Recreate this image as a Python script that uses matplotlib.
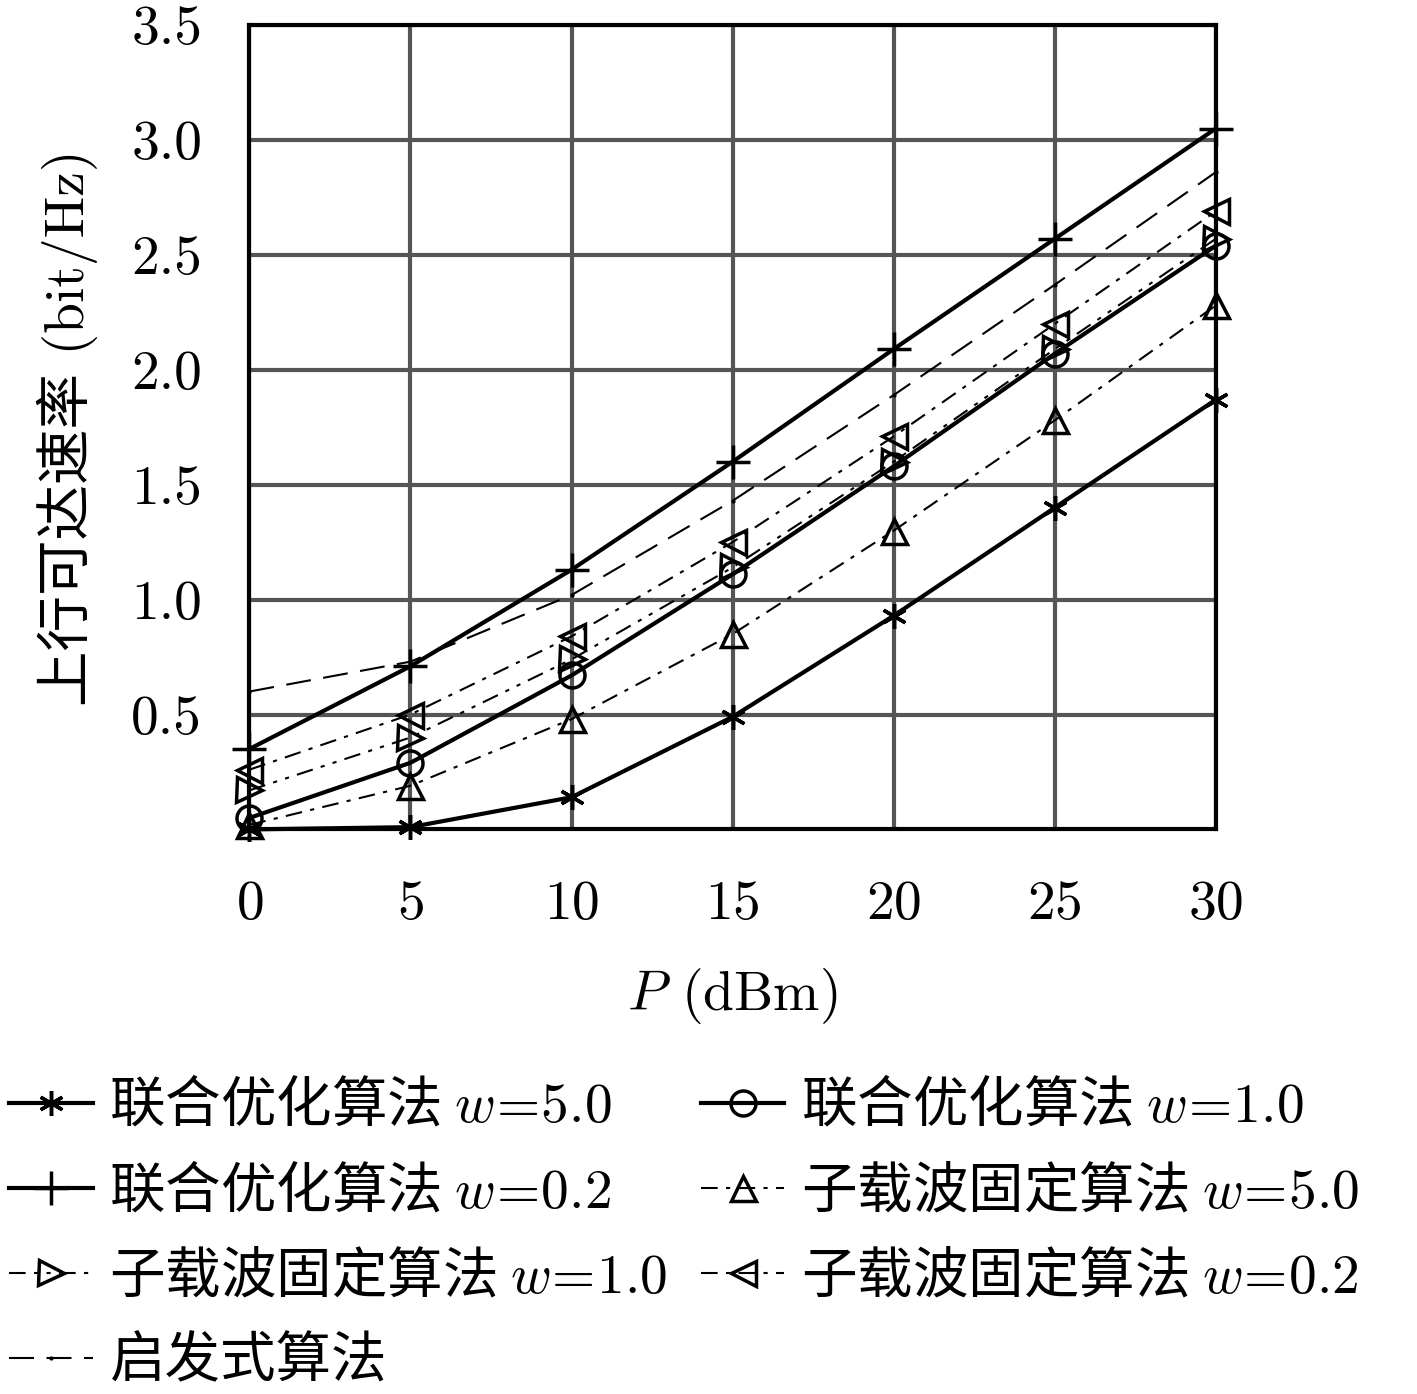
import matplotlib
matplotlib.use('Agg')
import matplotlib.pyplot as plt

plt.rcParams['font.family'] = ['cmr10', 'Noto Sans CJK SC']
plt.rcParams['mathtext.fontset'] = 'cm'
plt.rcParams['axes.unicode_minus'] = False
plt.rcParams['axes.formatter.use_mathtext'] = True

# data
P = [0, 5, 10, 15, 20, 25, 30]
joint_w5 = [0.00, 0.01, 0.14, 0.49, 0.93, 1.40, 1.87]
joint_w1 = [0.05, 0.29, 0.67, 1.11, 1.58, 2.07, 2.54]
joint_w02 = [0.35, 0.71, 1.13, 1.60, 2.09, 2.57, 3.05]
fixed_w5 = [0.02, 0.19, 0.48, 0.85, 1.30, 1.78, 2.28]
fixed_w1 = [0.17, 0.40, 0.74, 1.14, 1.60, 2.09, 2.57]
fixed_w02 = [0.26, 0.50, 0.84, 1.25, 1.71, 2.20, 2.69]
heuristic = [0.60, 0.73, 1.02, 1.43, 1.89, 2.37, 2.86]

labels = [r'联合优化算法 $w\!=\!5.0$', r'联合优化算法 $w\!=\!1.0$',
          r'联合优化算法 $w\!=\!0.2$', r'子载波固定算法 $w\!=\!5.0$',
          r'子载波固定算法 $w\!=\!1.0$', r'子载波固定算法 $w\!=\!0.2$',
          '启发式算法']
yticks = [0.5, 1.0, 1.5, 2.0, 2.5, 3.0, 3.5]

fig = plt.figure(figsize=(14.17, 13.94), dpi=100)
ax = fig.add_axes([0.176, 0.405, 0.682, 0.577])

ms = 18
mew = 2.5
h = []
h += ax.plot(P, joint_w5, '-', color='k', lw=3, marker=(6, 2, 0), ms=ms, mew=mew, label=labels[0], clip_on=False, zorder=5)
h += ax.plot(P, joint_w1, '-', color='k', lw=3, marker='o', mfc='none', ms=ms, mew=mew, label=labels[1], clip_on=False, zorder=5)
h += ax.plot(P, joint_w02, '-', color='k', lw=3, marker='+', ms=ms + 6, mew=mew, label=labels[2], clip_on=False, zorder=5)
h += ax.plot(P, fixed_w5, color='k', lw=1.5, dashes=[8, 4, 2, 4], marker='^', mfc='none', ms=ms, mew=mew, label=labels[3], clip_on=False, zorder=5)
h += ax.plot(P, fixed_w1, color='k', lw=1.5, dashes=[8, 4, 2, 4, 2, 4], marker='>', mfc='none', ms=ms, mew=mew, label=labels[4], clip_on=False, zorder=5)
h += ax.plot(P, fixed_w02, color='k', lw=1.5, dashes=[8, 4, 2, 4], marker='<', mfc='none', ms=ms, mew=mew, label=labels[5], clip_on=False, zorder=5)
h += ax.plot(P, heuristic, color='k', lw=1.5, dashes=[12, 6], marker='.', ms=4, label=labels[6], clip_on=False, zorder=5)

ax.set_xlim(0, 30)
ax.set_ylim(0, 3.5)
ax.set_xticks(P)
ax.set_yticks(yticks)
ax.set_yticklabels(['%.1f' % v for v in yticks])
ax.grid(True, color='#555555', lw=3)
ax.set_axisbelow(True)
for s in ax.spines.values():
    s.set_linewidth(3)
ax.tick_params(labelsize=40, direction='in', length=0, pad=34)
ax.tick_params(axis='x', pad=37)

ax.set_xlabel('$P$ (dBm)', fontsize=40, labelpad=26)
ax.set_ylabel('上行可达速率 (bit/Hz)', fontsize=40, labelpad=24)

# matplotlib fills legend column by column; reorder to read row by row
order = [0, 2, 4, 6, 1, 3, 5]
fig.legend([h[i] for i in order], [labels[i] for i in order],
           loc='upper left', bbox_to_anchor=(-0.009, 0.243), ncol=2, frameon=False,
           prop={'family': 'Noto Sans CJK SC', 'size': 40},
           handlelength=1.5, handletextpad=0.3, columnspacing=0.6,
           labelspacing=0.5, borderaxespad=0)

fig.savefig('out.png', dpi=100)
